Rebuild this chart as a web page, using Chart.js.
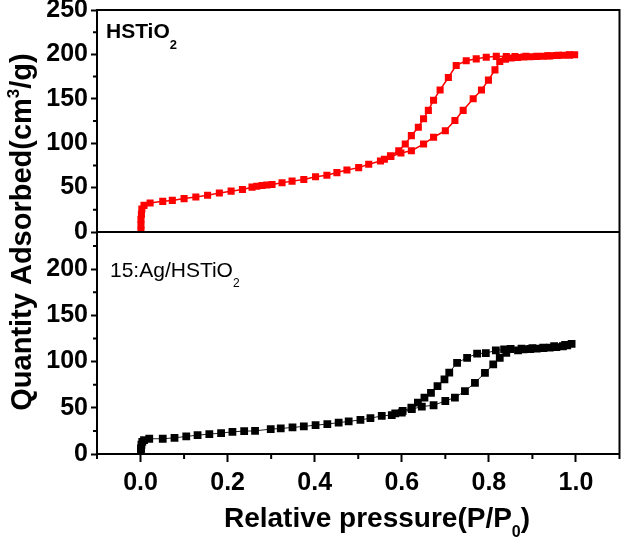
<!DOCTYPE html>
<html>
<head>
<meta charset="utf-8">
<script src="https://cdn.jsdelivr.net/npm/chart.js@4.4.1/dist/chart.umd.min.js"></script>
<style>
  html, body { margin: 0; padding: 0; background: #fff; }
  #wrap { width: 625px; height: 539px; }
</style>
</head>
<body>
<div id="wrap"><canvas id="isotherm" width="625" height="539"></canvas></div>
<script>
// HSTiO2 - adsorption branch (top panel)
const hsAdsX = [0.001, 0.001, 0.001, 0.002, 0.003, 0.008, 0.022, 0.051, 0.073, 0.1, 0.127, 0.154, 0.181, 0.208, 0.234,
  0.256, 0.267, 0.279, 0.29, 0.302, 0.325, 0.348, 0.375, 0.402, 0.428, 0.451, 0.474, 0.501, 0.524, 0.551, 0.575, 0.598,
  0.622, 0.65, 0.673, 0.7, 0.722, 0.741, 0.764, 0.783, 0.799, 0.814, 0.825, 0.838, 0.851, 0.866, 0.88, 0.895, 0.91,
  0.925, 0.94, 0.955, 0.97, 0.985, 0.997];
const hsAdsY = [2, 8, 14, 20, 26, 30, 32.7, 34.5, 35.6, 37.6, 39.5, 41.3, 44, 46, 47.8,
  50.5, 51.5, 52.4, 53, 53.5, 55.5, 57.3, 59.2, 62.3, 64, 66.9, 69.8, 72.5, 76.3, 80, 85, 89,
  91.5, 99, 106.7, 114, 125.6, 137, 150, 160, 171, 182.6, 192, 194.5, 196, 196.5, 197, 197.3, 197.7,
  198, 198.3, 198.7, 199, 199.3, 199.7];
// HSTiO2 - desorption branch
const hsDesX = [0.985, 0.96, 0.935, 0.91, 0.885, 0.86, 0.84, 0.817, 0.794, 0.771, 0.748, 0.725, 0.707, 0.688,
  0.673, 0.661, 0.65, 0.638, 0.622, 0.608, 0.593, 0.574, 0.56];
const hsDesY = [199.5, 199, 198.5, 198, 197.8, 197.5, 197.5, 197.8, 196.7, 195, 192.8, 187.6, 174, 160,
  148.4, 137, 127.6, 118, 108.5, 99, 91.5, 85.8, 82];

// 15:Ag/HSTiO2 - adsorption branch (bottom panel)
const agAdsX = [0.001, 0.001, 0.002, 0.004, 0.008, 0.02, 0.051, 0.078, 0.105, 0.131, 0.158, 0.185, 0.211, 0.238, 0.263,
  0.299, 0.322, 0.349, 0.375, 0.402, 0.429, 0.455, 0.478, 0.505, 0.528, 0.554, 0.577, 0.6, 0.623, 0.646, 0.673,
  0.7, 0.722, 0.745, 0.768, 0.791, 0.81, 0.825, 0.84, 0.867, 0.88, 0.895, 0.91, 0.925, 0.94, 0.955, 0.97, 0.98, 0.99];
const agAdsY = [2, 6, 10, 13, 15, 16.5, 16.5, 17.5, 19, 20.4, 21.5, 22.6, 24, 24.7, 25,
  26.9, 27.6, 28.7, 29.8, 31.2, 32.3, 34, 35.2, 36.9, 38.7, 41.2, 42, 44.8, 48.4, 51.3, 52.7,
  57.3, 61, 68, 77, 87.8, 96.8, 104, 109.4, 112, 113, 113.5, 114, 114.5, 115, 115.5, 116.5, 117.5, 119];
// 15:Ag/HSTiO2 - desorption branch
const agDesX = [0.975, 0.95, 0.925, 0.9, 0.875, 0.85, 0.835, 0.816, 0.793, 0.773, 0.75, 0.727, 0.709, 0.698,
  0.682, 0.667, 0.652, 0.637, 0.622, 0.602, 0.585];
const agDesY = [118, 116.5, 115, 114.5, 114, 113.5, 113, 112, 109, 108.6, 104, 98.6, 88, 80.6,
  73.4, 66, 61, 55.6, 50, 46.6, 44];

// axis ticks
const xTicks = [0, 0.2, 0.4, 0.6, 0.8, 1.0];
const xMinor = [-0.1, 0.1, 0.3, 0.5, 0.7, 0.9, 1.1];
const yTopTicks = [0, 50, 100, 150, 200, 250];
const yBotTicks = [0, 50, 100, 150, 200];
const yMinor = [25, 75, 125, 175, 225];

const FONT = "'Liberation Sans', Arial, sans-serif";

function toPoints(xs, ys) {
  return xs.map((x, i) => ({ x: x, y: ys[i] }));
}

// draws text pieces one after another (for sub/superscripts)
function drawPieces(ctx, parts, x, y, align) {
  let total = 0;
  parts.forEach(p => {
    ctx.font = p.weight + ' ' + p.size + 'px ' + FONT;
    p.w = ctx.measureText(p.t).width;
    total += p.w;
  });
  let cx = align === 'center' ? x - total / 2 : x;
  ctx.textAlign = 'left';
  ctx.textBaseline = 'alphabetic';
  parts.forEach(p => {
    ctx.font = p.weight + ' ' + p.size + 'px ' + FONT;
    ctx.fillText(p.t, cx, y + (p.dy || 0));
    cx += p.w;
  });
}

const framePlugin = {
  id: 'frame',
  afterDraw(chart) {
    const ctx = chart.ctx;
    const area = chart.chartArea;
    const xs = chart.scales.x;
    const yTop = chart.scales.yTop;
    const yBot = chart.scales.yBot;
    ctx.save();
    ctx.strokeStyle = '#000';
    ctx.lineWidth = 2;
    ctx.beginPath();
    // top, right and the line between the two panels
    ctx.moveTo(area.left, area.top);
    ctx.lineTo(area.right, area.top);
    ctx.lineTo(area.right, area.bottom);
    ctx.moveTo(area.left, yTop.bottom);
    ctx.lineTo(area.right, yTop.bottom);
    // minor ticks
    [yTop, yBot].forEach(s => {
      yMinor.forEach(v => {
        if (v > s.max) return;
        const py = s.getPixelForValue(v);
        ctx.moveTo(s.right, py);
        ctx.lineTo(s.right - 4, py);
      });
    });
    xMinor.forEach(v => {
      const px = xs.getPixelForValue(v);
      ctx.moveTo(px, xs.top);
      ctx.lineTo(px, xs.top + 5);
    });
    ctx.stroke();

    ctx.fillStyle = '#000';
    // panel labels
    drawPieces(ctx, [
      { t: 'HSTiO', size: 21, weight: 'bold' },
      { t: '2', size: 13, weight: 'bold', dy: 11 }
    ], 106, 38, 'left');
    drawPieces(ctx, [
      { t: '15:Ag/HSTiO', size: 21, weight: 'normal' },
      { t: '2', size: 12, weight: 'normal', dy: 10 }
    ], 110, 277, 'left');

    // x axis title
    drawPieces(ctx, [
      { t: 'Relative pressure(P/P', size: 28, weight: 'bold' },
      { t: '0', size: 16, weight: 'bold', dy: 10 },
      { t: ')', size: 28, weight: 'bold' }
    ], 377, 527, 'center');

    // shared y axis title
    ctx.translate(31, 232);
    ctx.rotate(-Math.PI / 2);
    drawPieces(ctx, [
      { t: 'Quantity Adsorbed(cm', size: 29, weight: 'bold' },
      { t: '3', size: 17, weight: 'bold', dy: -12 },
      { t: '/g)', size: 29, weight: 'bold' }
    ], 0, 0, 'center');
    ctx.restore();
  }
};

const tickFont = { family: FONT, size: 25, weight: 'bold' };

function yAxis(max, ticks, order) {
  return {
    type: 'linear',
    position: 'left',
    stack: 'panels',
    stackWeight: 1,
    weight: order,
    min: 0,
    max: max,
    afterBuildTicks: s => { s.ticks = ticks.map(v => ({ value: v })); },
    afterFit: s => { s.width = 97; s.paddingTop = 0; s.paddingBottom = 0; },
    ticks: { font: tickFont, color: '#000', padding: 3, autoSkip: false },
    grid: { drawOnChartArea: false, tickLength: 6, tickWidth: 2, tickColor: '#000' },
    border: { color: '#000', width: 2 }
  };
}

new Chart(document.getElementById('isotherm'), {
  type: 'scatter',
  data: {
    datasets: [
      {
        label: 'HSTiO2',
        data: toPoints(hsAdsX, hsAdsY).concat(toPoints(hsDesX, hsDesY)),
        yAxisID: 'yTop',
        showLine: true,
        borderColor: '#ff0000',
        backgroundColor: '#ff0000',
        borderWidth: 1.5,
        pointStyle: 'rect',
        pointRadius: 5,
        pointBorderWidth: 0
      },
      {
        label: '15:Ag/HSTiO2',
        data: toPoints(agAdsX, agAdsY).concat(toPoints(agDesX, agDesY)),
        yAxisID: 'yBot',
        showLine: true,
        borderColor: '#222',
        backgroundColor: '#000',
        borderWidth: 1,
        pointStyle: 'rect',
        pointRadius: 5.5,
        pointBorderWidth: 0
      }
    ]
  },
  options: {
    responsive: false,
    animation: false,
    layout: { padding: { top: 10, right: 4, left: 0, bottom: 0 } },
    plugins: { legend: { display: false }, tooltip: { enabled: false } },
    scales: {
      x: {
        type: 'linear',
        min: -0.1,
        max: 1.1,
        afterBuildTicks: s => { s.ticks = xTicks.map(v => ({ value: v })); },
        afterFit: s => { s.height = 85; },
        ticks: { font: tickFont, color: '#000', padding: 6, callback: v => v.toFixed(1) },
        grid: { drawOnChartArea: false, tickLength: 8, tickWidth: 2, tickColor: '#000' },
        border: { color: '#000', width: 2 }
      },
      yTop: yAxis(250, yTopTicks, 1),
      yBot: yAxis(240, yBotTicks, 0)
    }
  },
  plugins: [framePlugin]
});
</script>
</body>
</html>
